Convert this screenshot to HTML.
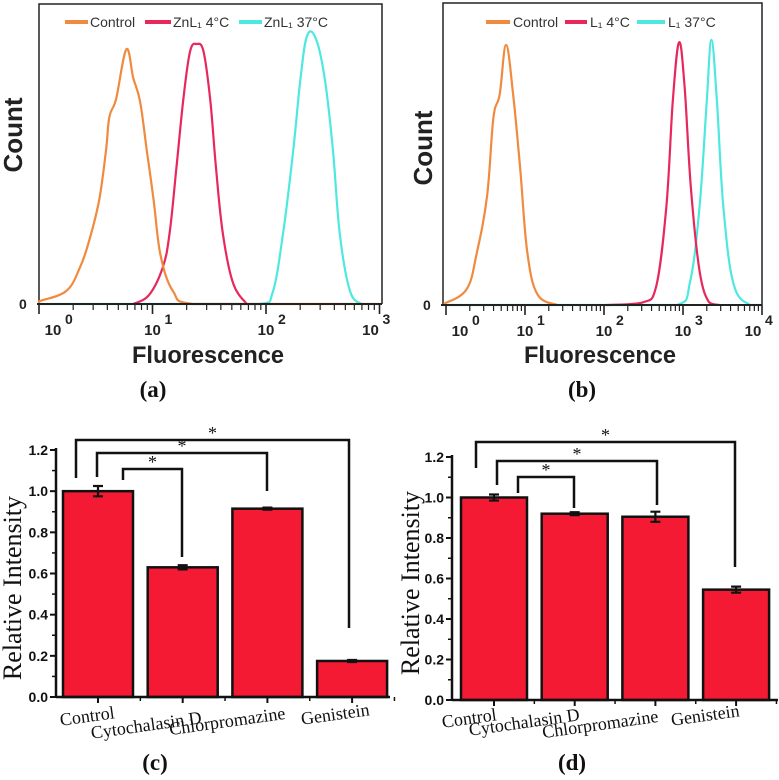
<!DOCTYPE html>
<html><head><meta charset="utf-8"><style>
html,body{margin:0;padding:0;background:#fff;}
svg{display:block;}
.sans{font-family:"Liberation Sans",sans-serif;}
.serif{font-family:"Liberation Serif",serif;}
</style></head><body>
<svg id="fig" width="779" height="780" viewBox="0 0 779 780" xmlns="http://www.w3.org/2000/svg">
<g id="pa"></g>
<g id="pb"></g>
<g id="pc"></g>
<g id="pd"></g>
</svg>
<script>
// ---------- Histogram data (log10 fluorescence, relative count) ----------
const aControlLog = [-0.1,0,0.24,0.36,0.44,0.53,0.59,0.62,0.68,0.77,0.83,0.89,0.95,1.01,1.07,1.18,1.36,3.0];
const aControlCnt = [0,1,5,14,24,40,59,72,79,98,87,78,59,40,19,5,0,0];
const aZn4Log = [0.83,0.97,1.09,1.15,1.21,1.27,1.33,1.39,1.45,1.51,1.56,1.62,1.71,1.83];
const aZn4Cnt = [0,3.5,14,27,52,78,97,100,97,78,52,27,8,0];
const aZn37Log = [-0.1,1.95,2.06,2.15,2.24,2.30,2.36,2.44,2.52,2.59,2.65,2.74,2.84];
const aZn37Cnt = [0,0,4.6,27,59,85,103,102,86,59,27,5,0];
const bControlLog = [-0.03,0.26,0.39,0.52,0.60,0.68,0.76,0.85,0.94,1.03,1.16,1.41];
const bControlCnt = [0.4,6,20,42,72,81,100,81,52,20,4,0];
const bL4Log = [2.03,2.49,2.66,2.79,2.87,2.95,3.02,3.10,3.21,3.33,3.46];
const bL4Cnt = [0,1,7,38,78,101,84,45,13,1,0];
const bL37Log = [-0.03,2.92,3.09,3.21,3.30,3.36,3.43,3.51,3.64,3.85,4.0];
const bL37Cnt = [0,0,9,38,78,102,78,38,8,0,0];
const aTicks = [0,1,2,3];
const bTicks = [0,1,2,3,4];

// ---------- Bar data ----------
const barCats = ["Control","Cytochalasin D","Chlorpromazine","Genistein"];
const cValues = [1.0,0.63,0.915,0.175];
const cErrors = [0.025,0.01,0.005,0.005];
const dValues = [1.0,0.92,0.905,0.545];
const dErrors = [0.015,0.007,0.025,0.015];
const yTickLabels = ["0.0","0.2","0.4","0.6","0.8","1.0","1.2"];

const NS="http://www.w3.org/2000/svg";
function mk(parent,tag,attrs,text){
  const e=document.createElementNS(NS,tag);
  for(const k in attrs) e.setAttribute(k,attrs[k]);
  if(text!==undefined) e.textContent=text;
  parent.appendChild(e);
  return e;
}
const C_OR="#f08a3e", C_RD="#e8285c", C_CY="#4fe8e0", C_BAR="#f41a33";

function smoothPath(pts){
  let d="M"+pts[0][0].toFixed(1)+","+pts[0][1].toFixed(1);
  for(let i=0;i<pts.length-1;i++){
    const p0=pts[Math.max(i-1,0)],p1=pts[i],p2=pts[i+1],p3=pts[Math.min(i+2,pts.length-1)];
    const t=0.18;
    let c1x=p1[0]+(p2[0]-p0[0])*t, c1y=p1[1]+(p2[1]-p0[1])*t;
    let c2x=p2[0]-(p3[0]-p1[0])*t, c2y=p2[1]-(p3[1]-p1[1])*t;
    const base=Math.max(p1[1],p2[1]);
    c1y=Math.min(c1y,Math.max(p1[1],p2[1])+0); c2y=Math.min(c2y,base);
    c1x=Math.min(Math.max(c1x,p1[0]),p2[0]); c2x=Math.min(Math.max(c2x,p1[0]),p2[0]);
    d+=`C${c1x.toFixed(1)},${c1y.toFixed(1)} ${c2x.toFixed(1)},${c2y.toFixed(1)} ${p2[0].toFixed(1)},${p2[1].toFixed(1)}`;
  }
  return d;
}

function histogram(g,cfg){
  const xs=l=>cfg.x0+l*cfg.dec;
  const ys=c=>cfg.base-c*cfg.k;
  const fr=mk(g,"path",{d:`M${cfg.left},${cfg.base} V${cfg.top} H${cfg.right} V${cfg.base}`,fill:"none",stroke:"#222","stroke-width":1.5});
  
  
  cfg.series.forEach(s=>{
    const pts=s.lx.map((l,i)=>[Math.min(Math.max(xs(l),cfg.left),cfg.right),ys(s.cy[i])]);
    const p=mk(g,"path",{d:smoothPath(pts),fill:"none",stroke:s.color,"stroke-width":2.2,"stroke-linejoin":"round"});
    
    
  });
  const ax=mk(g,"line",{x1:cfg.left-2,y1:cfg.base,x2:cfg.right,y2:cfg.base,stroke:"#222","stroke-width":2});
  
  
  cfg.ticks.forEach((t,ti)=>{
    const x=xs(t);
    mk(g,"line",{x1:x,y1:cfg.base,x2:x,y2:cfg.base+10,stroke:"#222","stroke-width":1.6});
    if(ti<cfg.ticks.length-1){
      for(let m=2;m<10;m++){
        const xm=xs(t+Math.log10(m));
        mk(g,"line",{x1:xm,y1:cfg.base,x2:xm,y2:cfg.base+6,stroke:"#222","stroke-width":1.2});
      }
    }
    let off=0; if(ti===0) off=14; if(ti===cfg.ticks.length-1) off=-9;
    const tl=mk(g,"text",{x:x+off,y:cfg.base+31,"text-anchor":"middle","font-size":15,"font-weight":"bold",fill:"#222",class:"sans"},"10");
    
    
    mk(g,"text",{x:x+off+12,y:cfg.base+20,"font-size":14,"font-weight":"bold",fill:"#222",class:"sans"},String(t));
  });
  const z=mk(g,"text",{x:cfg.left-20,y:cfg.base+5,"font-size":14,"font-weight":"bold",fill:"#222",class:"sans"},"0");
  
  
  const yl=mk(g,"text",{x:0,y:0,transform:`translate(${cfg.countX},${cfg.countY}) rotate(-90)`,"text-anchor":"middle","font-size":26,"font-weight":"bold",fill:"#222",class:"sans"},"Count");
  
  
  const xl=mk(g,"text",{x:cfg.fluorX,y:363,"text-anchor":"middle","font-size":24,"font-weight":"bold",fill:"#222",class:"sans",textLength:152,lengthAdjust:"spacingAndGlyphs"},"Fluorescence");
  
  
  cfg.legend.forEach(L=>{
    const lg=mk(g,"g",{});
    
    
    mk(lg,"line",{x1:L.x1,y1:22,x2:L.x2,y2:22,stroke:L.color,"stroke-width":4});
    mk(lg,"text",{x:L.tx,y:27,"font-size":14,fill:"#333",class:"sans"},L.label);
  });
  const pl=mk(g,"text",{x:cfg.labX,y:397,"text-anchor":"middle","font-size":23,"font-weight":"bold",fill:"#111",class:"serif"},cfg.lab);
  
  
}

histogram(document.getElementById("pa"),{
  left:39,right:382,top:4,base:304,x0:39,dec:113.5,k:2.6,ticks:aTicks,
  countX:22,countY:135,fluorX:208,labX:153,lab:"(a)",
  series:[
    {lx:aZn37Log,cy:aZn37Cnt,color:C_CY,name:"series-znl1-37c"},
    {lx:aZn4Log,cy:aZn4Cnt,color:C_RD,name:"series-znl1-4c"},
    {lx:aControlLog,cy:aControlCnt,color:C_OR,name:"series-control"}],
  legend:[{x1:65,x2:88,tx:90,color:C_OR,label:"Control"},
          {x1:145,x2:171,tx:173,color:C_RD,label:"ZnL\u2081 4°C"},
          {x1:239,x2:262,tx:264,color:C_CY,label:"ZnL\u2081 37°C"}]
});
histogram(document.getElementById("pb"),{
  left:443,right:762,top:3,base:305,x0:446,dec:79,k:2.6,ticks:bTicks,
  countX:432,countY:148,fluorX:600,labX:582,lab:"(b)",
  series:[
    {lx:bL37Log,cy:bL37Cnt,color:C_CY,name:"series-l1-37c"},
    {lx:bL4Log,cy:bL4Cnt,color:C_RD,name:"series-l1-4c"},
    {lx:bControlLog,cy:bControlCnt,color:C_OR,name:"series-control"}],
  legend:[{x1:486,x2:510,tx:513,color:C_OR,label:"Control"},
          {x1:565,x2:587,tx:590,color:C_RD,label:"L\u2081 4°C"},
          {x1:637,x2:665,tx:668,color:C_CY,label:"L\u2081 37°C"}]
});

function bars(g,cfg,vals,errs){
  const ys=v=>cfg.y0-v*(cfg.y0-cfg.y12)/1.2;
  const xc=i=>cfg.c0+i*cfg.band;
  const ya=mk(g,"line",{x1:cfg.ax,y1:cfg.y12-2,x2:cfg.ax,y2:cfg.y0,stroke:"#111","stroke-width":2.5});
  
  
  yTickLabels.forEach((lab,i)=>{
    const y=ys(i*0.2);
    mk(g,"line",{x1:cfg.ax-6,y1:y,x2:cfg.ax,y2:y,stroke:"#111","stroke-width":2});
    if(i<6) mk(g,"line",{x1:cfg.ax-4,y1:ys(i*0.2+0.1),x2:cfg.ax,y2:ys(i*0.2+0.1),stroke:"#111","stroke-width":1.5});
    const t=mk(g,"text",{x:cfg.ax-8,y:y+5,"text-anchor":"end","font-size":14,"font-weight":"bold",fill:"#111",class:"sans"},lab);
    
    
  });
  vals.forEach((v,i)=>{
    const r=mk(g,"rect",{x:xc(i)-cfg.bw/2,y:ys(v),width:cfg.bw,height:cfg.y0-ys(v),fill:C_BAR,stroke:"#111","stroke-width":2.5});
    
    
    const e=errs[i], x=xc(i);
    const eb=mk(g,"path",{d:`M${x},${ys(v+e)}V${ys(v-e)}M${x-5},${ys(v+e)}H${x+5}M${x-5},${ys(v-e)}H${x+5}`,stroke:"#111","stroke-width":2.2,fill:"none"});
    
    
  });
  const xa=mk(g,"line",{x1:cfg.ax,y1:cfg.y0,x2:cfg.xEnd,y2:cfg.y0,stroke:"#111","stroke-width":2.5});
  
  
  barCats.forEach((c,i)=>{
    mk(g,"line",{x1:xc(i),y1:cfg.y0,x2:xc(i),y2:cfg.y0+6,stroke:"#111","stroke-width":2});
    mk(g,"line",{x1:xc(i)+cfg.band/2,y1:cfg.y0,x2:xc(i)+cfg.band/2,y2:cfg.y0+4,stroke:"#111","stroke-width":1.5});
    const p=cfg.lab[i];
    const t=mk(g,"text",{x:0,y:0,transform:`translate(${p[0]},${p[1]}) rotate(-8)`,"text-anchor":"middle","font-size":18,fill:"#111",class:"serif"},c);
    
    
  });
  cfg.brk.forEach(b=>{
    const p=mk(g,"path",{d:`M${b[0]},${b[2]}V${b[1]}H${b[3]}V${b[4]}`,fill:"none",stroke:"#111","stroke-width":2.5});
    
    
    const s=mk(g,"text",{x:(b[0]+b[3])/2,y:b[1]-1,"text-anchor":"middle","font-size":18,fill:"#111",class:"serif"},"*");
    
    
  });
  const yl=mk(g,"text",{x:0,y:0,transform:`translate(${cfg.ylx},${cfg.yly}) rotate(-90)`,"text-anchor":"middle","font-size":26,fill:"#111",class:"serif"},"Relative Intensity");
  
  
  const pl=mk(g,"text",{x:cfg.labX,y:770,"text-anchor":"middle","font-size":23,"font-weight":"bold",fill:"#111",class:"serif"},cfg.plab);
  
  
}

bars(document.getElementById("pc"),{
  ax:56,y0:697,y12:450,c0:98,band:84.7,bw:70,xEnd:390,
  lab:[[88,722],[147,731],[228,727],[336,720]],
  brk:[[76,440,478,349,628],[97,453,477,267,491],[123,469,480,182,557]],
  ylx:21,yly:588,labX:155,plab:"(c)"
},cValues,cErrors);
bars(document.getElementById("pd"),{
  ax:452,y0:700,y12:457,c0:494,band:80.7,bw:66,xEnd:778,
  lab:[[470,724],[525,728],[601,730],[706,721]],
  brk:[[476,442,468,735,567],[497,461,485,657,505],[518,477,493,574,508]],
  ylx:419,yly:583,labX:572,plab:"(d)"
},dValues,dErrors);
</script>
</body></html>
